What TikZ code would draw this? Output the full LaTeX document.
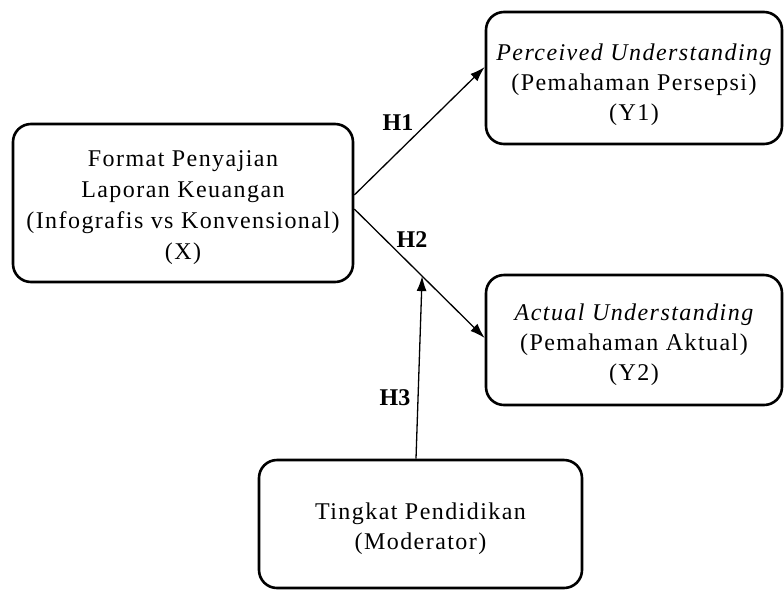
\documentclass[tikz,border=0pt]{standalone}
\usepackage{fontspec}
\setmainfont{Liberation Serif}[LetterSpace=6]
\newfontfamily\labfont{Liberation Serif}
\usetikzlibrary{arrows.meta,calc}
\tikzset{
  box/.style={draw, line width=2.6pt, rounded corners=18pt, inner sep=0pt},
  txt/.style={align=center, inner sep=0pt, font=\fontsize{24}{30}\selectfont},
  link/.style={line width=1.3pt, -{Latex[length=15pt,width=10pt]}},
  hlab/.style={font=\labfont\fontsize{24}{28}\selectfont\bfseries, inner sep=0pt}
}
\begin{document}
\begin{tikzpicture}[x=1pt,y=-1pt]
\useasboundingbox (0,0) rectangle (784,590);
\node[box, minimum width=340pt, minimum height=158pt] (X) at (183,203) {};
\node[box, minimum width=296pt, minimum height=132pt] (Y1) at (634,78) {};
\node[box, minimum width=296pt, minimum height=130pt] (Y2) at (634,340) {};
\node[box, minimum width=323pt, minimum height=128pt] (M) at (420.5,524) {};
\node[txt, font=\fontsize{24}{31}\selectfont] (Xt) at ([yshift=-5pt]X.center)
  {Format Penyajian\\Laporan Keuangan\\(Infografis vs Konvensional)\\(X)};
\node[txt] (Y1t) at ([yshift=-6.5pt]Y1.center)
  {\itshape Perceived Understanding\\(Pemahaman Persepsi)\\(Y1)};
\node[txt] (Y2t) at ([yshift=-4.5pt]Y2.center)
  {\itshape Actual Understanding\\(Pemahaman Aktual)\\(Y2)};
\node[txt] (Mt) at ([yshift=-5pt]M.center)
  {Tingkat Pendidikan\\(Moderator)};
\draw[link] ([yshift=8pt]X.east) -- ([yshift=11pt]Y1.west);
\draw[link] ([yshift=-6pt]X.east) -- ([yshift=2pt]Y2.west)
  coordinate[pos=0.52] (m);
\draw[link] ([xshift=-4.5pt]M.north) -- (m);
\node[hlab] (h1) at (398,123) {H1};
\node[hlab] (h2) at (412,240) {H2};
\node[hlab] (h3) at (395,398) {H3};
\end{tikzpicture}
\end{document}
